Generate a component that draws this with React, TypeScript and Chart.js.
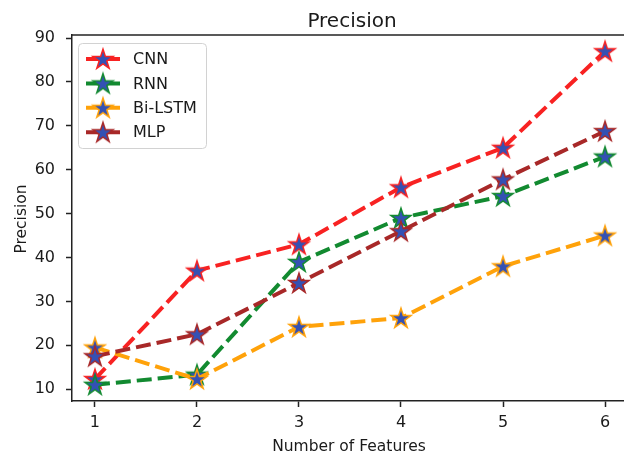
import React, { useEffect, useRef } from 'react';
import { Chart, registerables } from 'chart.js';

Chart.register(...registerables);

// ---- data ----
const features = [1, 2, 3, 4, 5, 6];
const seriesNames = ['CNN', 'RNN', 'Bi-LSTM', 'MLP'];
const cnn = [12.3, 37, 43, 56, 65, 87];
const rnn = [11, 13.3, 39, 49, 54, 63];
const biLstm = [19.5, 12.3, 24.2, 26.2, 38, 45];
const mlp = [17.5, 22.5, 34.2, 46, 57.8, 68.8];
const xTicks = [1, 2, 3, 4, 5, 6];
const yTicks = [10, 20, 30, 40, 50, 60, 70, 80, 90];
const titleText = 'Precision';
const xLabel = 'Number of Features';
const yLabel = 'Precision';

const seriesValues = [cnn, rnn, biLstm, mlp];
const seriesColors = ['#f82222', '#128a30', '#ffa20a', '#a82828'];
const starFill = '#3451b4';
const FONT = '"DejaVu Sans", sans-serif';

function makeStar(edge: string, fill: string, R = 10.5, lw = 1.5): HTMLCanvasElement {
  const size = Math.ceil(2 * R + lw * 2 + 2);
  const c = document.createElement('canvas');
  c.width = size;
  c.height = size;
  const ctx = c.getContext('2d')!;
  const cx = size / 2;
  const cy = size / 2 + 0.8;
  const r = R * 0.381966;
  ctx.beginPath();
  for (let k = 0; k < 10; k++) {
    const ang = -Math.PI / 2 + (k * Math.PI) / 5;
    const rad = k % 2 === 0 ? R : r;
    const px = cx + rad * Math.cos(ang);
    const py = cy + rad * Math.sin(ang);
    if (k === 0) ctx.moveTo(px, py);
    else ctx.lineTo(px, py);
  }
  ctx.closePath();
  ctx.fillStyle = fill;
  ctx.fill();
  ctx.lineWidth = lw;
  ctx.lineJoin = 'miter';
  ctx.strokeStyle = edge;
  ctx.stroke();
  return c;
}

const zeroPad = (s: any) => {
  s.paddingLeft = 0;
  s.paddingRight = 0;
  s.paddingTop = 0;
  s.paddingBottom = 0;
};

export default function App() {
  const ref = useRef<HTMLCanvasElement | null>(null);

  useEffect(() => {
    if (!ref.current) return;
    const stars = seriesColors.map((c) => makeStar(c, starFill));

    const overlay = {
      id: 'overlay',
      afterDraw(chart: any) {
        const { ctx, chartArea: a } = chart;
        ctx.save();
        // top spine
        ctx.strokeStyle = '#222';
        ctx.lineWidth = 1.5;
        ctx.beginPath();
        ctx.moveTo(a.left - 0.75, a.top);
        ctx.lineTo(a.right + 2, a.top);
        ctx.stroke();

        ctx.fillStyle = '#1a1a1a';
        // title
        ctx.font = `20px ${FONT}`;
        ctx.textAlign = 'center';
        ctx.textBaseline = 'alphabetic';
        ctx.fillText(titleText, 352, 27);
        // x label
        ctx.font = `15.5px ${FONT}`;
        ctx.fillText(xLabel, 349, 451);
        // y label
        ctx.save();
        ctx.translate(26, 219);
        ctx.rotate(-Math.PI / 2);
        ctx.fillText(yLabel, 0, 0);
        ctx.restore();

        // legend
        const lx = 78.5, ly = 43.5, lw = 128, lh = 105;
        ctx.beginPath();
        (ctx as any).roundRect(lx, ly, lw, lh, 4);
        ctx.fillStyle = 'rgba(255,255,255,0.85)';
        ctx.fill();
        ctx.strokeStyle = '#d2d2d2';
        ctx.lineWidth = 1;
        ctx.stroke();
        seriesNames.forEach((name, i) => {
          const y = 59 + i * 24.4;
          ctx.save();
          ctx.strokeStyle = seriesColors[i];
          ctx.lineWidth = 4;
          ctx.setLineDash([14, 6]);
          ctx.beginPath();
          ctx.moveTo(86, y);
          ctx.lineTo(120, y);
          ctx.stroke();
          ctx.restore();
          const s = stars[i];
          ctx.drawImage(s, 103 - s.width / 2, y - s.height / 2);
          ctx.fillStyle = '#1a1a1a';
          ctx.font = `16px ${FONT}`;
          ctx.textAlign = 'left';
          ctx.textBaseline = 'middle';
          ctx.fillText(name, 133, y + 1);
        });
        ctx.restore();
      },
    };

    const chart = new Chart(ref.current, {
      type: 'line',
      data: {
        datasets: seriesNames.map((name, i) => ({
          label: name,
          data: features.map((f, j) => ({ x: f, y: seriesValues[i][j] })),
          borderColor: seriesColors[i],
          backgroundColor: seriesColors[i],
          borderWidth: 4,
          borderDash: [15, 6],
          borderCapStyle: 'butt',
          fill: false,
          tension: 0,
          pointStyle: stars[i] as any,
          pointRadius: 10,
          order: 3 - i,
        })),
      },
      options: {
        responsive: false,
        animation: false,
        layout: { autoPadding: false, padding: { top: 35, left: 0, right: 0, bottom: 0 } },
        plugins: {
          legend: { display: false },
          title: { display: false },
          tooltip: { enabled: false },
        },
        scales: {
          x: {
            type: 'linear',
            min: 0.775,
            max: 6.186,
            afterBuildTicks: (s: any) => {
              s.ticks = xTicks.map((v) => ({ value: v }));
            },
            afterFit: (s: any) => {
              s.height = 55;
              zeroPad(s);
            },
            grid: {
              display: true,
              drawOnChartArea: false,
              drawTicks: true,
              tickLength: 6,
              tickWidth: 1.5,
              tickColor: '#222',
              color: '#222',
            },
            border: { display: true, color: '#222', width: 1.5 },
            ticks: {
              color: '#1a1a1a',
              font: { family: 'DejaVu Sans', size: 16 },
              padding: 6,
              maxRotation: 0,
              autoSkip: false,
              callback: (v: any) => String(v),
            },
          },
          y: {
            type: 'linear',
            min: 7.3,
            max: 90.7,
            afterBuildTicks: (s: any) => {
              s.ticks = yTicks.map((v) => ({ value: v }));
            },
            afterFit: (s: any) => {
              s.width = 72;
              zeroPad(s);
            },
            grid: {
              display: true,
              drawOnChartArea: false,
              drawTicks: true,
              tickLength: 6,
              tickWidth: 1.5,
              tickColor: '#222',
              color: '#222',
            },
            border: { display: true, color: '#222', width: 1.5 },
            ticks: {
              color: '#1a1a1a',
              font: { family: 'DejaVu Sans', size: 16 },
              padding: 11,
              autoSkip: false,
              callback: (v: any) => String(v),
            },
          },
        },
      },
      plugins: [overlay],
    } as any);

    return () => chart.destroy();
  }, []);

  return (
    <div style={{ position: 'fixed', left: 0, top: 0, width: 624, height: 456, overflow: 'hidden', background: '#fff' }}>
      <canvas ref={ref} width={624} height={456} style={{ display: 'block', width: 624, height: 456 }} />
    </div>
  );
}
